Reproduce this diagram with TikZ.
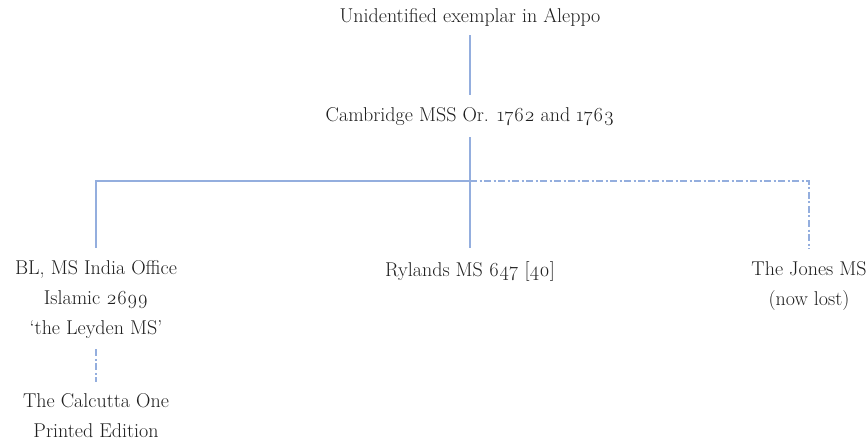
\documentclass[tikz,border=0pt]{standalone}
\usepackage{fontspec}
\setmainfont{Latin Modern Roman}[Numbers=OldStyle]
\usepackage{tikz}
\definecolor{txt}{HTML}{1E1E1E}
\definecolor{stem}{HTML}{94AEDE}
\tikzstyle{ms}=[align=center, text=txt, inner sep=0pt, font=\fontsize{20}{30}\selectfont]
\tikzstyle{link}=[draw=stem, line width=1.2pt]
\tikzstyle{lost}=[link, dash pattern=on 7pt off 2.5pt on 2pt off 2.5pt]
\usetikzlibrary{positioning,calc}

\begin{document}
\begin{tikzpicture}[x=1pt,y=1pt]
    \useasboundingbox (0,0) rectangle (868,-441);
    \node (aleppo) [ms] at (470,-17) {Unidentified exemplar in Aleppo};
    \node (camb) [ms] at (470,-117) {Cambridge MSS Or. 1762 and 1763};
    \coordinate (split) at (470,-181);
    \node (leyden) [ms] at (96,-300) {BL, MS India Office\\Islamic 2699\\`the Leyden MS'};
    \node (rylands) [ms] at (470,-271) {Rylands MS 647 [40]};
    \node (jones) [ms] at (809,-286) {The Jones MS\\(now lost)};
    \node (calcutta) [ms] at (96,-416) {The Calcutta One\\Printed Edition};
    \path[link]
    		(aleppo) edge[shorten <=9pt, shorten >=13pt] (camb)
    		(camb) edge[shorten <=11pt] (split)
    		(split) edge[shorten >=13pt] (rylands);
    \draw[link, shorten >=13pt] (split) -| (leyden);
    \draw[lost, shorten >=13pt] (split) -| (jones);
    \draw[lost, shorten <=10pt, shorten >=12pt] (leyden) -- (calcutta);
\end{tikzpicture}
\end{document}
